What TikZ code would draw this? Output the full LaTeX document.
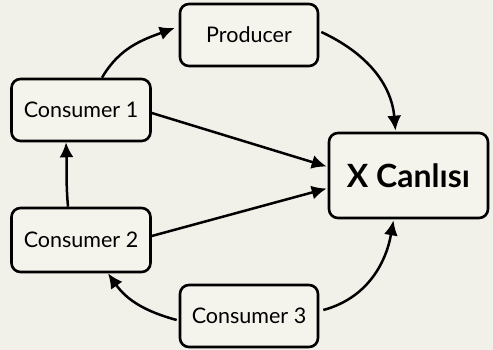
\documentclass[tikz,border=0pt]{standalone}
\usepackage{fontspec}
\setmainfont{Lato}
\usetikzlibrary{arrows.meta}
\definecolor{bgc}{HTML}{F1F0E9}
\definecolor{boxc}{HTML}{F4F3EC}
\begin{document}
\begin{tikzpicture}[x=1pt,y=1pt,
  box/.style={draw=black,line width=2.6pt,rounded corners=9pt,fill=boxc,
    inner sep=0pt,font=\fontsize{21.5}{25}\selectfont},
  big/.style={box,font=\bfseries\fontsize{32}{36}\selectfont},
  conn/.style={line width=2.5pt,-{Latex[length=15pt,width=14pt]}}]
\fill[bgc] (0,0) rectangle (493,350);
\useasboundingbox (0,0) rectangle (493,350);
\node[box,minimum width=138pt,minimum height=62pt] (prod) at (249,315) {Producer};
\node[box,minimum width=139pt,minimum height=62pt] (c1) at (81,240) {Consumer 1};
\node[box,minimum width=139pt,minimum height=64pt] (c2) at (81,110) {Consumer 2};
\node[box,minimum width=138pt,minimum height=62pt] (c3) at (249,34) {Consumer 3};
\node[big,minimum width=159pt,minimum height=85pt] (x) at (408.5,174.5) {X Canlısı};
\draw[conn] ([xshift=21pt]c1.north) to[out=60,in=200] ([xshift=-4pt,yshift=7pt]prod.west);
\draw[conn] ([xshift=2pt,yshift=3pt]prod.east) to[out=-25,in=95] ([xshift=-13pt,yshift=1pt]x.north);
\draw[conn] ([yshift=-3pt]c1.east) -- ([xshift=-1pt,yshift=9pt]x.west);
\draw[conn] ([yshift=4pt]c2.east) -- ([xshift=-1pt,yshift=-13pt]x.west);
\draw[conn] ([xshift=-13pt]c2.north) to[out=95,in=-88] ([xshift=-15pt]c1.south);
\draw[conn] ([xshift=-2pt,yshift=-4pt]c3.west) to[out=165,in=-55] ([xshift=27pt]c2.south);
\draw[conn] ([xshift=4pt,yshift=6pt]c3.east) to[out=15,in=-100] ([xshift=-15pt,yshift=-1pt]x.south);
\end{tikzpicture}
\end{document}
